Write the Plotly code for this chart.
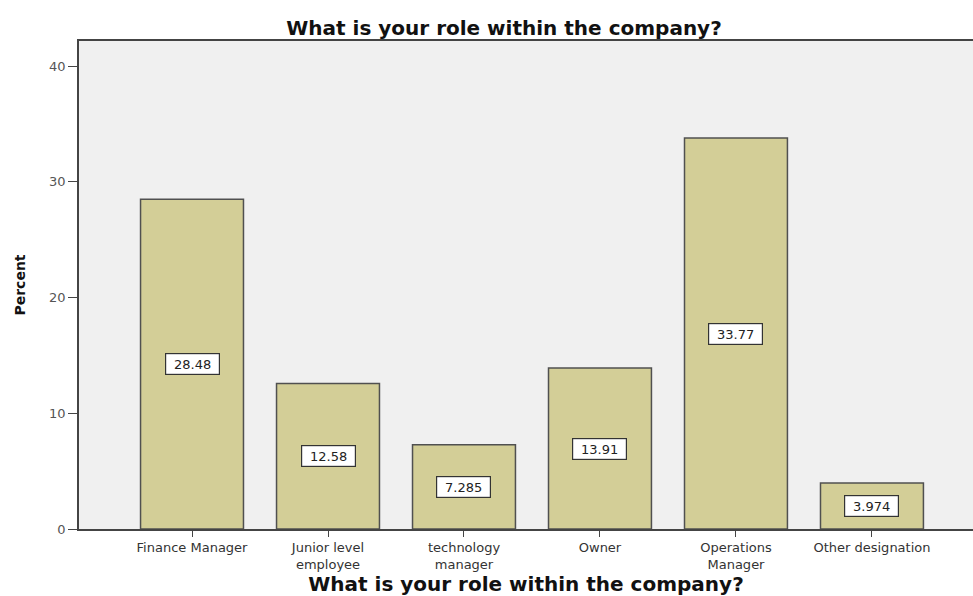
import plotly.graph_objects as go

# Survey responses: share of respondents by role
roles = [
    "Finance Manager",
    "Junior level<br>employee",
    "technology<br>manager",
    "Owner",
    "Operations<br>Manager",
    "Other designation",
]
percent = [28.48, 12.58, 7.285, 13.91, 33.77, 3.974]
value_labels = ["28.48", "12.58", "7.285", "13.91", "33.77", "3.974"]
y_ticks = [0, 10, 20, 30, 40]

title_text = "What is your role within the company?"
x_positions = list(range(len(roles)))

fig = go.Figure()
fig.add_trace(
    go.Bar(
        x=x_positions,
        y=percent,
        width=0.757,
        marker=dict(color="#d3ce97", line=dict(color="#505050", width=1.5)),
        hoverinfo="skip",
    )
)

# boxed value labels placed at the middle of each bar
for xi, val, lab in zip(x_positions, percent, value_labels):
    fig.add_annotation(
        x=xi,
        y=val / 2,
        text=lab,
        showarrow=False,
        width=47,
        height=14,
        font=dict(family="DejaVu Sans", size=13, color="#222"),
        bgcolor="white",
        bordercolor="#333",
        borderwidth=1.2,
        borderpad=3,
    )

fig.update_layout(
    width=973,
    height=596,
    margin=dict(l=79, r=0, t=41, b=67),
    paper_bgcolor="white",
    plot_bgcolor="#f0f0f0",
    showlegend=False,
    title=dict(
        text=title_text,
        x=0.518,
        xanchor="center",
        y=1 - 28 / 596,
        yanchor="middle",
        font=dict(family="DejaVu Sans", size=20, color="#111", weight="bold"),
    ),
    xaxis=dict(
        range=[-0.831, 5.743],
        tickmode="array",
        tickvals=x_positions,
        ticktext=roles,
        ticks="outside",
        ticklen=6,
        tickcolor="#444",
        showline=True,
        linecolor="#444",
        linewidth=1.5,
        mirror=True,
        showgrid=False,
        zeroline=False,
        tickfont=dict(family="DejaVu Sans", size=13, color="#333"),
        title=dict(
            text=title_text,
            font=dict(family="DejaVu Sans", size=20, color="#111", weight="bold"),
            standoff=8,
        ),
    ),
    yaxis=dict(
        range=[0, 42.16],
        tickmode="array",
        tickvals=y_ticks,
        ticks="outside",
        ticklen=9,
        tickcolor="#444",
        showline=True,
        linecolor="#444",
        linewidth=1.5,
        showgrid=False,
        zeroline=False,
        tickfont=dict(family="DejaVu Sans", size=13, color="#555"),
        title=dict(
            text="Percent",
            font=dict(family="DejaVu Sans", size=14, color="#111", weight="bold"),
            standoff=20,
        ),
    ),
)

fig.write_html("out.html")
